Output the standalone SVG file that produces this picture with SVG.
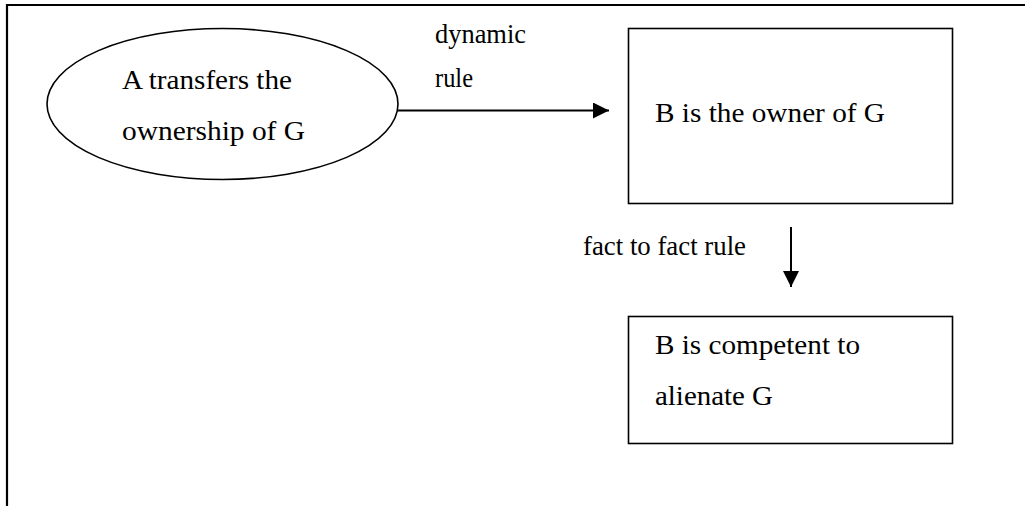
<svg xmlns="http://www.w3.org/2000/svg" width="1025" height="506" viewBox="0 0 1025 506">
  <defs>
    <style>
      .frame { fill: none; stroke: #000; stroke-width: 2.2; }
      .shape { fill: #fff; stroke: #000; stroke-width: 1.6; }
      .link { fill: none; stroke: #000; stroke-width: 2; }
      .txt { font-family: "Liberation Serif", "Times New Roman", serif; font-size: 28px; fill: #000; }
    </style>
    <marker id="arrow" viewBox="0 0 16 16" refX="16" refY="8" markerWidth="16" markerHeight="16" markerUnits="userSpaceOnUse" orient="auto">
      <path d="M0,0 L16,8 L0,16 Z" fill="#000"/>
    </marker>
  </defs>

  <rect width="1025" height="506" fill="#fff"/>

  <!-- page frame: top and left edges -->
  <path class="frame" d="M7,506 L7,5 L1025,5"/>

  <g id="connectors">
    <line class="link" x1="397" y1="110.5" x2="609" y2="110.5" marker-end="url(#arrow)"/>
    <text class="txt" x="435" y="43" textLength="91" lengthAdjust="spacingAndGlyphs">dynamic</text>
    <text class="txt" x="435" y="87" textLength="38" lengthAdjust="spacingAndGlyphs">rule</text>
    <line class="link" x1="791" y1="227" x2="791" y2="287" marker-end="url(#arrow)"/>
    <text class="txt" x="583" y="255" textLength="163" lengthAdjust="spacingAndGlyphs">fact to fact rule</text>
  </g>

  <g id="transfer">
    <ellipse class="shape" cx="222.5" cy="104" rx="175.5" ry="75.5"/>
    <text class="txt" x="122" y="89" textLength="170" lengthAdjust="spacingAndGlyphs">A transfers the</text>
    <text class="txt" x="122" y="140" textLength="183" lengthAdjust="spacingAndGlyphs">ownership of G</text>
  </g>

  <g id="owner">
    <rect class="shape" x="628.5" y="28.5" width="324" height="175"/>
    <text class="txt" x="655" y="122" textLength="230" lengthAdjust="spacingAndGlyphs">B is the owner of G</text>
  </g>

  <g id="competent">
    <rect class="shape" x="628.5" y="316.5" width="324" height="127"/>
    <text class="txt" x="655" y="354" textLength="205" lengthAdjust="spacingAndGlyphs">B is competent to</text>
    <text class="txt" x="655" y="405" textLength="118" lengthAdjust="spacingAndGlyphs">alienate G</text>
  </g>
</svg>
